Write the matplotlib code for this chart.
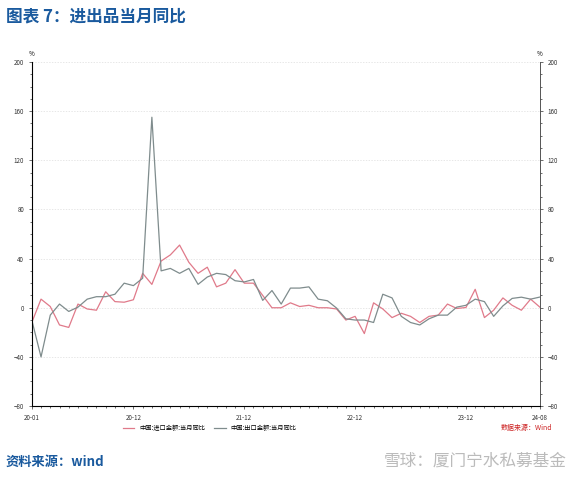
import matplotlib
matplotlib.use("Agg")
import matplotlib.pyplot as plt
from matplotlib.ticker import MultipleLocator
import numpy as np

plt.rcParams['font.family'] = ['Noto Sans CJK SC', 'DejaVu Sans']

months = [f"{y:02d}-{m:02d}" for y in range(20, 25) for m in range(1, 13)][:56]
imports = [-12, 7, 1, -14, -16, 3, -1, -2, 13, 5, 4.5, 6.5,
           28, 19, 38, 43, 51, 37, 28, 33, 17, 20, 31, 20,
           20, 10, 0, 0, 4, 1, 2, 0, 0, -1, -10, -7,
           -21, 4, -1, -8, -4.5, -7, -12, -7, -6, 3, -0.6, 0.2,
           15, -8, -2, 8, 2, -2, 7, 0.5]
exports = [-10, -40, -6, 3, -3, 0.5, 7, 9, 9, 11, 20, 18,
           24, 155, 30, 32, 28, 32, 19, 25, 28, 27, 22, 21,
           23, 6, 14, 3, 16, 16, 17, 7, 5.7, -0.3, -9, -10,
           -10, -12, 11, 8, -7, -12, -14, -9, -6, -6, 0.5, 2,
           7, 5, -7, 1.5, 7.6, 8.6, 7, 8.7]
tick_labels = ["20-01", "20-12", "21-12", "22-12", "23-12", "24-08"]
yticks = [-80, -40, 0, 40, 80, 120, 160, 200]

fig = plt.figure(figsize=(5.78, 4.8), dpi=100)
ax = fig.add_axes([0.055, 0.154, 0.879, 0.717])
x = np.arange(len(months))
ax.plot(x, imports, color='#e07a8a', lw=0.9, label='中国:进口金额:当月同比')
ax.plot(x, exports, color='#7f8c8d', lw=0.9, label='中国:出口金额:当月同比')
ax.set_xlim(0, len(months) - 1)
ax.set_ylim(-80, 200)
ax.set_yticks(yticks)
ax.yaxis.set_minor_locator(MultipleLocator(10))
ax.set_xticks([months.index(t) for t in tick_labels])
ax.set_xticklabels(tick_labels)
ax.set_xticks(x, minor=True)
ax.grid(axis='y', color='#dddddd', lw=0.5, ls=(0, (2, 2)))
for s in ['top']:
    ax.spines[s].set_visible(False)
for s in ['left', 'right', 'bottom']:
    ax.spines[s].set_color('#555555'); ax.spines[s].set_linewidth(0.6)
ax.tick_params(labelsize=4.5, length=2, width=0.5, colors='#333333', direction='out')
ax.tick_params(which='minor', length=1.5, width=0.4)
ax2 = ax.twinx()
ax2.set_ylim(-80, 200)
ax2.set_yticks(yticks)
ax2.yaxis.set_minor_locator(MultipleLocator(10))
ax2.spines['top'].set_visible(False)
ax2.spines['right'].set_color('#555555'); ax2.spines['right'].set_linewidth(0.6)
ax2.tick_params(labelsize=4.5, length=2, width=0.5, colors='#333333')
ax2.tick_params(which='minor', length=1.5, width=0.4)
ax.text(0, 1.01, '%', transform=ax.transAxes, fontsize=4.5, ha='center', va='bottom')
ax.text(1, 1.01, '%', transform=ax.transAxes, fontsize=4.5, ha='center', va='bottom')
ax.legend(loc='upper center', bbox_to_anchor=(0.35, -0.035), ncol=2, frameon=False,
          fontsize=4.5, handlelength=1.8, columnspacing=1.5)
fig.text(0.955, 0.105, '数据来源：Wind', color='#cc2222', fontsize=5, ha='right')
fig.text(0.01, 0.955, '图表 7：进出品当月同比', color='#1a5a9e', fontsize=12, weight='bold')
fig.text(0.01, 0.03, '资料来源：wind', color='#1a5a9e', fontsize=9.5, weight='bold')
fig.text(0.98, 0.03, '雪球：厦门宁水私募基金', color='#bbbbbb', fontsize=12, ha='right')
fig.savefig('out.png', dpi=100)
